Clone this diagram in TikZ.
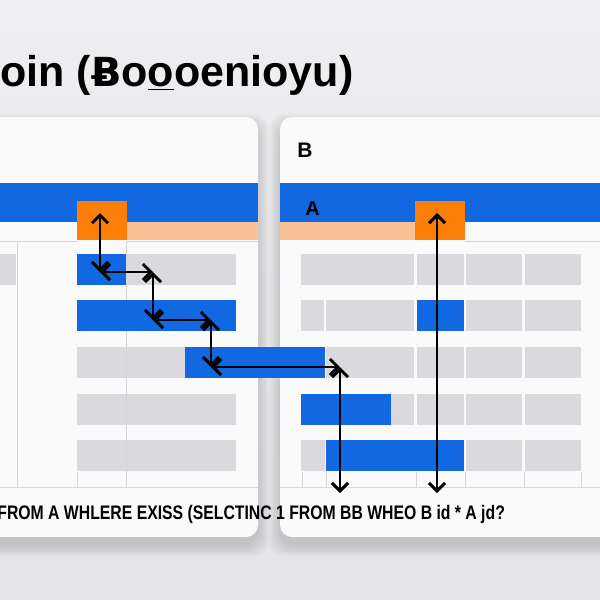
\documentclass[tikz,border=0pt]{standalone}
\usepackage{fontspec}
\setmainfont{Liberation Sans}
\newfontfamily\dejavu{DejaVu Sans}
\usetikzlibrary{arrows.meta,positioning}
\definecolor{bgtop}{RGB}{238,238,241}
\definecolor{bgbot}{RGB}{228,228,232}
\definecolor{panelfill}{RGB}{250,250,251}
\definecolor{rowblue}{RGB}{18,104,224}
\definecolor{keyorange}{RGB}{251,126,8}
\definecolor{peach}{RGB}{248,194,148}
\definecolor{cellgray}{RGB}{218,218,222}
\definecolor{gridline}{RGB}{214,214,218}

\begin{document}
\begin{tikzpicture}[x=0.5pt,y=-0.5pt,
panel/.style={fill=panelfill,rounded corners=6pt},
softshadow/.style={fill=black,opacity=0.022,rounded corners=8pt},
link/.style={line width=1pt,{Straight Barb[length=4pt,width=8pt,line width=1.5pt]}-{Straight Barb[length=4pt,width=8pt,line width=1.5pt]}},
thinlink/.style={link,line width=0.7pt},
label/.style={inner sep=0pt,anchor=west,font=\bfseries}
]
\useasboundingbox (0,0) rectangle (600,600);
\shade[top color=bgtop,bottom color=bgbot] (0,0) rectangle (600,600);

% panels with a soft shadow
\foreach \d in {1,3,5,7,9,11} {
  \fill[softshadow] (-30-\d,117-\d+8) rectangle (258+\d,537+\d+8);
  \fill[softshadow] (280-\d,117-\d+8) rectangle (640+\d,537+\d+8);
}
\fill[panel] (-30,117) rectangle (258,537);
\fill[panel] (280,117) rectangle (640,537);

% header bands
\fill[rowblue] (-30,183) rectangle (258,222);
\fill[rowblue] (280,183) rectangle (640,222);
\fill[peach] (127,222) rectangle (258,240);
\fill[peach] (280,222) rectangle (415,240);
\fill[keyorange] (77,201) rectangle (127,240);
\fill[keyorange] (415,201) rectangle (465,240);

% grid lines
\draw[gridline,line width=0.5pt] (0,241) -- (77,241) (127,241) -- (258,241) (465,241) -- (600,241);
\draw[gridline,line width=0.5pt] (17,241) -- (17,487) (126,241) -- (126,487) (77,472) -- (77,487);
\draw[gridline,line width=0.4pt] (0,487) -- (258,487) (280,487) -- (600,487);
\foreach \x in {302,326,416,465,524,581}
  \draw[gridline,line width=0.5pt] (\x,472) -- (\x,487);

% gray cells
\fill[cellgray] (0,254) rectangle (16,285);
\foreach \y in {254,300,347,394,440} {
  \fill[cellgray] (77,\y) rectangle (126,\y+31);
  \fill[cellgray] (127,\y) rectangle (236,\y+31);
  \fill[cellgray] (417,\y) rectangle (464,\y+31);
  \fill[cellgray] (466,\y) rectangle (522,\y+31);
  \fill[cellgray] (525,\y) rectangle (581,\y+31);
}
\fill[cellgray] (301,254) rectangle (414,285);
\fill[cellgray] (301,300) rectangle (324,331);
\fill[cellgray] (326,300) rectangle (414,331);
\fill[cellgray] (326,347) rectangle (414,378);
\fill[cellgray] (301,394) rectangle (414,425);
\fill[cellgray] (301,440) rectangle (325,471);

% matching rows
\fill[rowblue] (77,254) rectangle (126,285);
\fill[rowblue] (77,300) rectangle (236,331);
\fill[rowblue] (185,347) rectangle (325,378);
\fill[rowblue] (417,300) rectangle (464,331);
\fill[rowblue] (301,394) rectangle (391,425);
\fill[rowblue] (326,440) rectangle (464,471);

% labels
\node[label,font=\bfseries\fontsize{21.5}{24}\selectfont] (title) at (0,75)
  {oin ({\dejavu\bfseries\fontsize{20}{24}\selectfont Ƀ}o\underline{o}oenioyu)};
\node[label,font=\bfseries\fontsize{10.5}{12}\selectfont] (lblB) at (297,150) {B};
\node[label,font=\bfseries\fontsize{10}{12}\selectfont] (lblA) at (305,209) {A};
\node[label] (query) at (-3,514)
  {\scalebox{0.805}[1]{\fontsize{9.8}{12}\selectfont FROM A WHLERE EXISS (SELCTINC 1 FROM BB WHEO B id * A jd?}};

% lookup path
\coordinate (p1) at (100,213);
\coordinate (p2) at (100,272);
\coordinate (p3) at (153,272);
\coordinate (p4) at (153,320);
\coordinate (p5) at (211,320);
\coordinate (p6) at (211,367);
\coordinate (p7) at (340,367);
\coordinate (p8) at (340,493);
\coordinate (q1) at (437,213);
\coordinate (q2) at (437,493);
\draw[link] (p1) -- (p2);
\draw[link] (p2) -- (p3);
\draw[link] (p3) -- (p4);
\draw[link] (p4) -- (p5);
\draw[link] (p5) -- (p6);
\draw[link] (p6) -- (p7);
\draw[thinlink] (p7) -- (p8);
\draw[thinlink] (q1) -- (q2);
\end{tikzpicture}
\end{document}
